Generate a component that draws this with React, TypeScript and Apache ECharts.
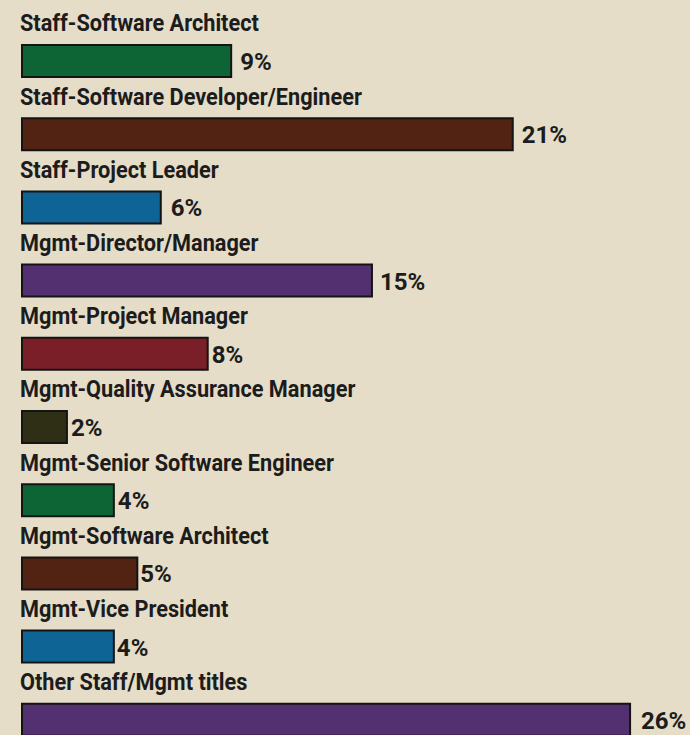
import React, { useEffect, useRef } from "react";
import * as echarts from "echarts";

const categories = [
  "Staff-Software Architect",
  "Staff-Software Developer/Engineer",
  "Staff-Project Leader",
  "Mgmt-Director/Manager",
  "Mgmt-Project Manager",
  "Mgmt-Quality Assurance Manager",
  "Mgmt-Senior Software Engineer",
  "Mgmt-Software Architect",
  "Mgmt-Vice President",
  "Other Staff/Mgmt titles",
];

const values = [9, 21, 6, 15, 8, 2, 4, 5, 4, 26];

const barColors = [
  "#0d6435",
  "#522213",
  "#0f6496",
  "#53306f",
  "#7a1f27",
  "#2e2f15",
  "#0d6435",
  "#522213",
  "#0f6496",
  "#53306f",
];

const valueLabelGaps = [8, 8, 9, 7, 3, 3, 3, 2, 2, 10];

const FONT = "Roboto, 'Liberation Sans', sans-serif";
const TEXT_COLOR = "#1c1c1c";

export default function App() {
  const ref = useRef<HTMLDivElement>(null);

  useEffect(() => {
    document.body.style.margin = "0";
    document.body.style.background = "#e5ddc8";
    if (!ref.current) return;
    const chart = echarts.init(ref.current, null, { renderer: "svg" });
    chart.setOption({
      animation: false,
      backgroundColor: "#e5ddc8",
      grid: {
        left: 21,
        top: 24.4,
        width: 657,
        height: 732,
        containLabel: false,
        outerBoundsMode: "none",
      },
      xAxis: { type: "value", min: 0, max: 28, show: false },
      yAxis: { type: "category", data: categories, inverse: true, show: false },
      series: [
        {
          type: "bar",
          barWidth: 34,
          data: values.map((v, i) => ({
            value: v,
            itemStyle: { color: barColors[i] },
          })),
          itemStyle: { borderColor: "#141414", borderWidth: 2 },
          silent: true,
        },
        {
          type: "custom",
          coordinateSystem: "cartesian2d",
          data: values.map((v, i) => [v, i]),
          encode: { x: 0, y: 1 },
          silent: true,
          z: 5,
          renderItem: (params: any, api: any) => {
            const idx = params.dataIndex;
            const v = api.value(0);
            const p0 = api.coord([0, idx]);
            const p1 = api.coord([v, idx]);
            return {
              type: "group",
              children: [
                {
                  type: "text",
                  x: p0[0] - 1,
                  y: p0[1] - 37.5,
                  scaleX: 0.905,
                  style: {
                    text: categories[idx],
                    fontFamily: FONT,
                    fontWeight: "bold",
                    fontSize: 24,
                    fill: TEXT_COLOR,
                    align: "left",
                    verticalAlign: "middle",
                  },
                },
                {
                  type: "text",
                  x: p1[0] + valueLabelGaps[idx],
                  y: p1[1] + 1,
                  scaleX: 1.0,
                  style: {
                    text: v + "%",
                    fontFamily: FONT,
                    fontWeight: "bold",
                    fontSize: 24,
                    fill: TEXT_COLOR,
                    align: "left",
                    verticalAlign: "middle",
                  },
                },
              ],
            };
          },
        },
      ],
    });
    return () => chart.dispose();
  }, []);

  return (
    <div
      ref={ref}
      style={{ position: "fixed", left: 0, top: 0, width: 690, height: 735 }}
    />
  );
}
